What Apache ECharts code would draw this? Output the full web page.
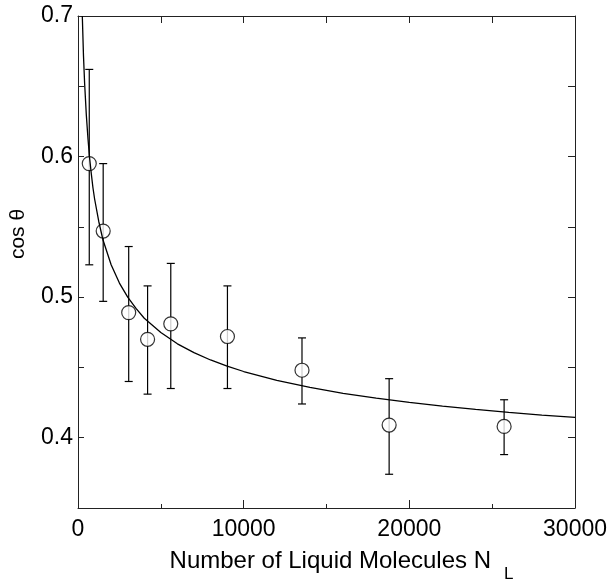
<!DOCTYPE html>
<html>
<head>
<meta charset="utf-8">
<script src="https://cdn.jsdelivr.net/npm/echarts@6/dist/echarts.min.js"></script>
<style>
html,body{margin:0;padding:0;background:#fff;}
#chart{width:610px;height:588px;}
</style>
</head>
<body>
<div id="chart"></div>
<script>
// Measured data points (number of liquid molecules, cos theta, error bar upper, lower)
var nL = [680, 1520, 3060, 4200, 5600, 9020, 13520, 18780, 25720];
var cosTheta = [0.595, 0.547, 0.489, 0.470, 0.481, 0.472, 0.448, 0.409, 0.408];
var errUpper = [0.662, 0.595, 0.536, 0.508, 0.524, 0.508, 0.471, 0.442, 0.427];
var errLower = [0.523, 0.497, 0.440, 0.431, 0.435, 0.435, 0.424, 0.374, 0.388];

// Fitted curve
var curveN = [260, 330, 400, 500, 600, 700, 800, 900, 1000, 1250, 1500, 2000, 2500, 3000, 3500, 4000, 5000, 6000, 7000, 8000,
  9000, 10000, 12000, 14000, 16000, 18000, 20000, 22000, 24000, 26000, 28000, 30000];
var curveCos = [0.700, 0.672, 0.652, 0.630, 0.613, 0.599, 0.588, 0.578, 0.570, 0.554, 0.541, 0.523, 0.510, 0.500, 0.492, 0.485, 0.4748,
  0.4668, 0.4605, 0.4553, 0.4509, 0.4471, 0.4408, 0.4358, 0.4316, 0.4281, 0.4251, 0.4225, 0.4201, 0.418, 0.4161, 0.4144];

// Axis ticks
var xTicks = [0, 10000, 20000, 30000];
var yTicks = [0.4, 0.5, 0.6, 0.7];

var font = '"Liberation Sans", Arial, sans-serif';
var axisColor = '#222';

var points = nL.map(function (n, i) { return [n, cosTheta[i]]; });
var bars = nL.map(function (n, i) { return [n, errUpper[i], errLower[i]]; });
var curve = curveN.map(function (n, i) { return [n, curveCos[i]]; });

var chart = echarts.init(document.getElementById('chart'), null, {renderer: 'canvas'});

var baseAxisLine = {show: true, onZero: false, lineStyle: {color: axisColor, width: 1}};

chart.setOption({
  animation: false,
  backgroundColor: '#fff',
  grid: {left: 78, right: 32, top: 16, bottom: 72, containLabel: false},
  xAxis: [
    {
      type: 'value', position: 'bottom', min: xTicks[0], max: xTicks[xTicks.length - 1], interval: 10000,
      axisLine: baseAxisLine,
      axisTick: {show: true, inside: true, length: 8, lineStyle: {color: axisColor}},
      minorTick: {show: true, splitNumber: 2, length: 4, lineStyle: {color: axisColor}},
      splitLine: {show: false},
      axisLabel: {
        show: true, margin: 10, color: '#000', fontFamily: font, fontSize: 23,
        formatter: function (v) { return String(Math.round(v)); }
      },
      name: '{m|Number of Liquid Molecules N}{s|L}',
      nameLocation: 'middle',
      nameGap: 32,
      nameTextStyle: {
        padding: [0, 0, 0, 30],
        rich: {
          m: {fontFamily: font, fontSize: 24, color: '#000'},
          s: {fontFamily: font, fontSize: 17, color: '#000', padding: [26, 0, 0, 13]}
        }
      }
    },
    {
      type: 'value', position: 'top', min: 0, max: 30000, interval: 5000,
      axisLine: baseAxisLine,
      axisTick: {show: true, inside: true, length: 7, lineStyle: {color: axisColor}},
      splitLine: {show: false},
      axisLabel: {show: false}
    }
  ],
  yAxis: [
    {
      type: 'value', position: 'left', min: 0.35, max: 0.7, interval: 0.05,
      axisLine: baseAxisLine,
      axisTick: {show: true, inside: true, length: 6, lineStyle: {color: axisColor}},
      splitLine: {show: false},
      axisLabel: {
        show: true, margin: 5, color: '#000', fontFamily: font, fontSize: 23,
        formatter: function (v) {
          for (var i = 0; i < yTicks.length; i++) {
            if (Math.abs(v - yTicks[i]) < 1e-6) return yTicks[i].toFixed(1);
          }
          return '';
        }
      },
      name: 'cos θ',
      nameLocation: 'middle',
      nameRotate: 90,
      nameGap: 49,
      nameTextStyle: {fontFamily: font, fontSize: 21, color: '#000', padding: [0, 0, 0, 56]}
    },
    {
      type: 'value', position: 'right', min: 0.35, max: 0.7, interval: 0.05,
      axisLine: baseAxisLine,
      axisTick: {show: true, inside: true, length: 7, lineStyle: {color: axisColor}},
      splitLine: {show: false},
      axisLabel: {show: false}
    }
  ],
  series: [
    {
      type: 'custom',
      name: 'error',
      xAxisIndex: 0, yAxisIndex: 0,
      z: 1,
      data: bars,
      renderItem: function (params, api) {
        var x = api.value(0);
        var top = api.coord([x, api.value(1)]);
        var bot = api.coord([x, api.value(2)]);
        var hw = 4;
        var st = {stroke: '#000', lineWidth: 1.2};
        return {
          type: 'group',
          children: [
            {type: 'line', shape: {x1: top[0], y1: top[1], x2: bot[0], y2: bot[1]}, style: st},
            {type: 'line', shape: {x1: top[0] - hw, y1: top[1], x2: top[0] + hw, y2: top[1]}, style: st},
            {type: 'line', shape: {x1: bot[0] - hw, y1: bot[1], x2: bot[0] + hw, y2: bot[1]}, style: st}
          ]
        };
      }
    },
    {
      type: 'scatter',
      name: 'data',
      xAxisIndex: 0, yAxisIndex: 0,
      z: 2,
      symbol: 'circle',
      symbolSize: 14,
      itemStyle: {color: '#fff', borderColor: '#000', borderWidth: 1.2},
      data: points
    },
    {
      type: 'line',
      name: 'fit',
      xAxisIndex: 0, yAxisIndex: 0,
      z: 3,
      smooth: false,
      showSymbol: false,
      symbol: 'none',
      lineStyle: {color: '#000', width: 1.3},
      data: curve
    }
  ]
});
</script>
</body>
</html>
